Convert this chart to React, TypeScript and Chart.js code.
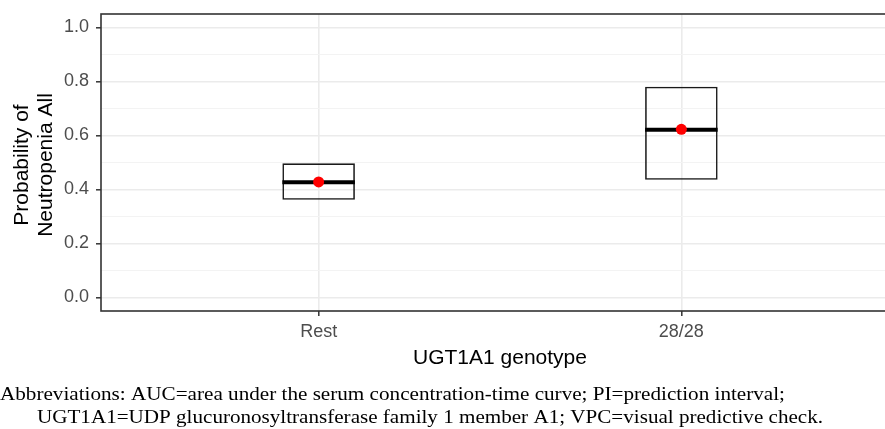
import React, { useEffect, useRef } from 'react';
import { Chart, registerables } from 'chart.js';

Chart.register(...registerables);

const categories = ['Rest', '28/28'];
const catPositions = [1, 2];
const boxLower = [0.362, 0.436];
const boxUpper = [0.497, 0.781];
const medians = [0.427, 0.621];
const observed = [0.428, 0.623];
const yMajorTicks = [0, 0.2, 0.4, 0.6, 0.8, 1.0];
const yMinorTicks = [0.1, 0.3, 0.5, 0.7, 0.9];
const yTitle = ['Probability of', 'Neutropenia All'];
const xTitle = 'UGT1A1 genotype';
const captionLines = [
  'Abbreviations: AUC=area under the serum concentration-time curve; PI=prediction interval;',
  'UGT1A1=UDP glucuronosyltransferase family 1 member A1; VPC=visual predictive check.',
];

const SANS = '"Liberation Sans", Arial, sans-serif';
const SERIF = '"Liberation Serif", "Times New Roman", serif';

const isMajor = (v: number) => Math.abs(v * 5 - Math.round(v * 5)) < 1e-6;

const decor = {
  id: 'decor',
  afterDatasetDraw(chart: any, args: any) {
    if (args.index !== 1) return;
    const { ctx, scales } = chart;
    const x = scales.x;
    const y = scales.y;
    ctx.save();
    ctx.strokeStyle = '#000';
    ctx.lineWidth = 4;
    medians.forEach((m, i) => {
      const yy = y.getPixelForValue(m);
      ctx.beginPath();
      ctx.moveTo(x.getPixelForValue(catPositions[i] - 0.1), yy);
      ctx.lineTo(x.getPixelForValue(catPositions[i] + 0.1), yy);
      ctx.stroke();
    });
    ctx.restore();
  },
  afterDatasetsDraw(chart: any) {
    const { ctx, chartArea } = chart;
    ctx.save();
    ctx.strokeStyle = '#333333';
    ctx.lineWidth = 1.6;
    ctx.strokeRect(chartArea.left, chartArea.top, chartArea.right - chartArea.left, chartArea.bottom - chartArea.top);
    ctx.restore();
  },
  afterDraw(chart: any) {
    const { ctx, chartArea } = chart;
    ctx.save();
    ctx.fillStyle = '#000';
    ctx.font = `21px ${SANS}`;
    ctx.textAlign = 'center';
    ctx.textBaseline = 'alphabetic';
    ctx.fillText(xTitle, (chartArea.left + chartArea.right) / 2, 364);
    const cy = 165;
    const xs = [28, 52];
    yTitle.forEach((t, i) => {
      ctx.save();
      ctx.translate(xs[i], cy);
      ctx.rotate(-Math.PI / 2);
      ctx.fillText(t, 0, 0);
      ctx.restore();
    });
    ctx.font = `19px ${SERIF}`;
    ctx.textAlign = 'left';
    const capPos = [
      { x: 0, w: 785, y: 400 },
      { x: 37, w: 786, y: 423 },
    ];
    captionLines.forEach((t, i) => {
      const p = capPos[i];
      const mw = ctx.measureText(t).width;
      ctx.save();
      ctx.translate(p.x, p.y);
      ctx.scale(p.w / mw, 1);
      ctx.fillText(t, 0, 0);
      ctx.restore();
    });
    ctx.restore();
  },
};

export default function App() {
  const ref = useRef<HTMLCanvasElement | null>(null);
  useEffect(() => {
    if (!ref.current) return;
    const chart = new Chart(ref.current, {
      type: 'bar',
      data: {
        datasets: [
          {
            type: 'scatter',
            label: 'Observed',
            data: catPositions.map((c, i) => ({ x: c, y: observed[i] })),
            backgroundColor: '#FF0000',
            borderColor: '#FF0000',
            borderWidth: 0,
            pointRadius: 5.5,
            pointStyle: 'circle',
          } as any,
          {
            type: 'bar',
            label: 'PI',
            data: catPositions.map((c, i) => ({ x: c, y: [boxLower[i], boxUpper[i]] })),
            backgroundColor: 'rgba(0,0,0,0)',
            borderColor: '#1a1a1a',
            borderWidth: 1.6,
            borderSkipped: false,
            categoryPercentage: 0.2,
            barPercentage: 1,
          } as any,
        ],
      },
      options: {
        responsive: false,
        maintainAspectRatio: false,
        animation: false,
        devicePixelRatio: 1,
        layout: { padding: { left: 0, top: 14, right: 11, bottom: 88 } },
        plugins: { legend: { display: false }, tooltip: { enabled: false } },
        scales: {
          x: {
            type: 'linear',
            min: 0.4,
            max: 2.6,
            offset: false,
            afterBuildTicks: (scale: any) => {
              scale.ticks = catPositions.map((v) => ({ value: v }));
            },
            afterFit: (scale: any) => {
              scale.height = 30;
              scale.paddingLeft = 0;
              scale.paddingRight = 0;
            },
            ticks: {
              autoSkip: false,
              maxRotation: 0,
              padding: 5,
              color: '#4D4D4D',
              font: { family: SANS, size: 18 },
              callback: (value: any) => {
                const idx = catPositions.indexOf(Number(value));
                return idx >= 0 ? categories[idx] : '';
              },
            },
            grid: {
              offset: false,
              color: '#EBEBEB',
              lineWidth: 1.6,
              drawTicks: true,
              tickLength: 5,
              tickColor: '#333333',
              tickWidth: 1.5,
            },
            border: { display: false },
          },
          y: {
            type: 'linear',
            min: -0.05,
            max: 1.05,
            afterBuildTicks: (scale: any) => {
              scale.ticks = [...yMajorTicks, ...yMinorTicks]
                .sort((a, b) => a - b)
                .map((v) => ({ value: v }));
            },
            afterFit: (scale: any) => {
              scale.width = 101;
              scale.paddingTop = 0;
              scale.paddingBottom = 0;
            },
            ticks: {
              autoSkip: false,
              padding: 7,
              color: '#4D4D4D',
              font: { family: SANS, size: 18 },
              callback: (value: any) => (isMajor(Number(value)) ? Number(value).toFixed(1) : ''),
            },
            grid: {
              color: (c: any) => (c.tick && isMajor(c.tick.value) ? '#EBEBEB' : '#F3F3F3'),
              lineWidth: (c: any) => (c.tick && isMajor(c.tick.value) ? 1.6 : 1),
              drawTicks: true,
              tickLength: 5,
              tickColor: (c: any) => (c.tick && isMajor(c.tick.value) ? '#333333' : 'rgba(0,0,0,0)'),
              tickWidth: 1.5,
            },
            border: { display: false },
          },
        },
      } as any,
      plugins: [decor],
    });
    return () => chart.destroy();
  }, []);

  return (
    <div
      style={{
        position: 'fixed',
        left: 0,
        top: 0,
        width: 885,
        height: 429,
        overflow: 'hidden',
        background: '#fff',
      }}
    >
      <canvas ref={ref} width={910} height={429} style={{ display: 'block', width: 910, height: 429 }} />
    </div>
  );
}
